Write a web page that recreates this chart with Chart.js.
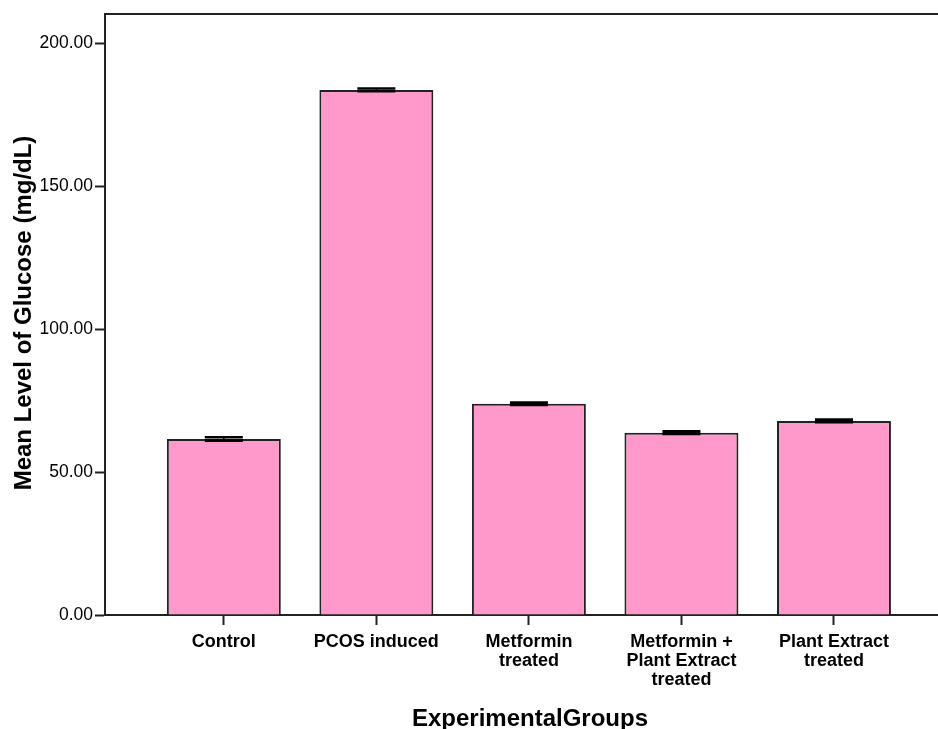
<!DOCTYPE html>
<html>
<head>
<meta charset="utf-8">
<title>Mean Level of Glucose by Experimental Group</title>
<script src="https://cdn.jsdelivr.net/npm/chart.js@4/dist/chart.umd.min.js"></script>
<style>
  html, body { margin: 0; padding: 0; background: #ffffff; }
  #wrap { width: 938px; height: 729px; }
</style>
</head>
<body>
<div id="wrap"><canvas id="chart" width="938" height="729"></canvas></div>
<script>
// Experimental groups (each entry is the list of label lines)
const categories = [
  ['Control'],
  ['PCOS induced'],
  ['Metformin', 'treated'],
  ['Metformin +', 'Plant Extract', 'treated'],
  ['Plant Extract', 'treated']
];
// Mean blood glucose (mg/dL) and its error margin
const glucoseMean = [61.6, 183.7, 73.9, 63.8, 67.9];
const glucoseErr  = [0.6, 0.5, 0.4, 0.45, 0.45];
// Value axis ticks
const yTicks = [0, 50, 100, 150, 200];

const xTitle = 'ExperimentalGroups';
const yTitle = 'Mean Level of Glucose (mg/dL)';

const groupIndex = categories.map((_, i) => i);

// Error bars, top frame line and axis titles
const decor = {
  id: 'decor',
  afterDatasetsDraw(chart) {
    const { ctx, chartArea: a, scales: { y } } = chart;
    const meta = chart.getDatasetMeta(0);
    ctx.save();
    ctx.strokeStyle = '#000000';
    meta.data.forEach((bar, i) => {
      const hi = y.getPixelForValue(glucoseMean[i] + glucoseErr[i]);
      const lo = y.getPixelForValue(glucoseMean[i] - glucoseErr[i]);
      const cx = bar.x, hw = 19;
      ctx.lineWidth = 2.6;
      ctx.beginPath();
      ctx.moveTo(cx - hw, hi); ctx.lineTo(cx + hw, hi);
      ctx.moveTo(cx - hw, lo); ctx.lineTo(cx + hw, lo);
      ctx.stroke();
      ctx.lineWidth = 1.5;
      ctx.beginPath();
      ctx.moveTo(cx, hi); ctx.lineTo(cx, lo);
      ctx.stroke();
    });
    // frame line along the top of the plot
    ctx.strokeStyle = '#222222';
    ctx.lineWidth = 2;
    ctx.beginPath();
    ctx.moveTo(a.left, a.top);
    ctx.lineTo(a.right, a.top);
    ctx.stroke();
    ctx.restore();
  },
  afterDraw(chart) {
    const { ctx } = chart;
    ctx.save();
    ctx.fillStyle = '#000000';
    ctx.font = 'bold 24px "Liberation Sans", Arial, sans-serif';
    ctx.textAlign = 'center';
    ctx.textBaseline = 'alphabetic';
    ctx.fillText(xTitle, 530, 726);
    ctx.translate(31, 313);
    ctx.rotate(-Math.PI / 2);
    ctx.fillText(yTitle, 0, 0);
    ctx.restore();
  }
};

new Chart(document.getElementById('chart'), {
  type: 'bar',
  data: {
    datasets: [{
      data: groupIndex.map(i => ({ x: i, y: glucoseMean[i] })),
      backgroundColor: '#FF99CC',
      borderColor: '#222222',
      borderWidth: 2,
      borderSkipped: 'bottom',
      categoryPercentage: 0.747,
      barPercentage: 1
    }]
  },
  options: {
    responsive: false,
    animation: false,
    layout: { padding: { top: 14, right: 0, left: 0, bottom: 0 } },
    plugins: {
      legend: { display: false },
      tooltip: { enabled: false }
    },
    scales: {
      x: {
        type: 'linear',
        offset: false,
        min: -0.779,
        max: 4.682,
        afterFit(scale) { scale.height = 114; },
        afterBuildTicks(scale) { scale.ticks = groupIndex.map(v => ({ value: v })); },
        border: { display: true, color: '#222222', width: 2 },
        grid: { display: true, drawOnChartArea: false, drawTicks: true, tickLength: 10, tickWidth: 2, tickColor: '#222222', offset: false },
        ticks: {
          autoSkip: false,
          maxRotation: 0,
          padding: 7,
          color: '#000000',
          font: { family: '"Liberation Sans", Arial, sans-serif', size: 18, weight: 'bold', lineHeight: 1.06 },
          callback: (v) => categories[v] || ''
        }
      },
      y: {
        min: 0,
        max: 210.25,
        afterFit(scale) { scale.width = 105; },
        afterBuildTicks(scale) { scale.ticks = yTicks.map(v => ({ value: v })); },
        border: { display: true, color: '#222222', width: 2 },
        grid: { display: true, drawOnChartArea: false, drawTicks: true, tickLength: 10, tickWidth: 2, tickColor: '#222222' },
        ticks: {
          padding: 2,
          color: '#000000',
          font: { family: '"Liberation Sans", Arial, sans-serif', size: 17.5 },
          callback: (v) => Number(v).toFixed(2)
        }
      }
    }
  },
  plugins: [decor]
});
</script>
</body>
</html>
